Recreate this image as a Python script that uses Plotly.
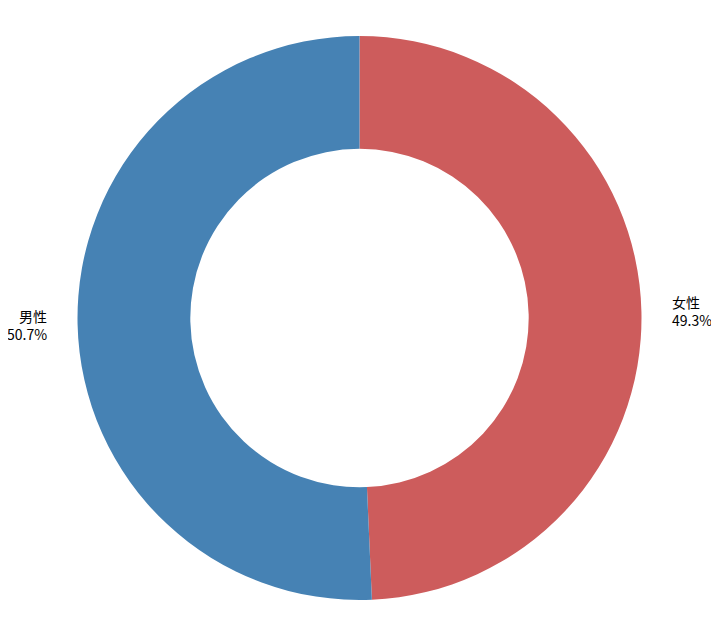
import math
import plotly.graph_objects as go

labels = ["女性", "男性"]
values = [49.3, 50.7]
colors = ["#CD5C5C", "#4682B4"]

W, H = 719, 636
PAGE_OFFSET = 8  # default body margin of the html page
CX, CY, R = 359.5 - PAGE_OFFSET, 318 - PAGE_OFFSET, 282
LABEL_DIST = 1.1

fig = go.Figure(go.Pie(
    labels=labels,
    values=values,
    hole=0.6,
    sort=False,
    direction="clockwise",
    rotation=0,
    marker=dict(colors=colors, line=dict(color="white", width=0)),
    textinfo="none",
    hoverinfo="label+percent",
    showlegend=False,
    domain=dict(x=[(CX - R) / W, (CX + R) / W], y=[(H - CY - R) / H, (H - CY + R) / H]),
))

total = sum(values)
cum = 0
annotations = []
for lab, v in zip(labels, values):
    mid = (cum + v / 2) / total * 2 * math.pi
    cum += v
    dx = math.sin(mid) * R * LABEL_DIST
    dy = math.cos(mid) * R * LABEL_DIST
    right = dx >= 0
    annotations.append(dict(
        x=(CX + dx) / W, y=(H - CY + dy) / H,
        xref="paper", yref="paper",
        text=f"{lab}<br>{v / total * 100:.1f}%",
        showarrow=False,
        xanchor="left" if right else "right",
        yanchor="middle",
        align="left" if right else "right",
        font=dict(family="Noto Sans CJK SC", size=14, color="#000000"),
    ))

fig.update_layout(
    width=W, height=H,
    margin=dict(l=0, r=0, t=0, b=0),
    paper_bgcolor="white",
    annotations=annotations,
)
fig.write_html("out.html")
